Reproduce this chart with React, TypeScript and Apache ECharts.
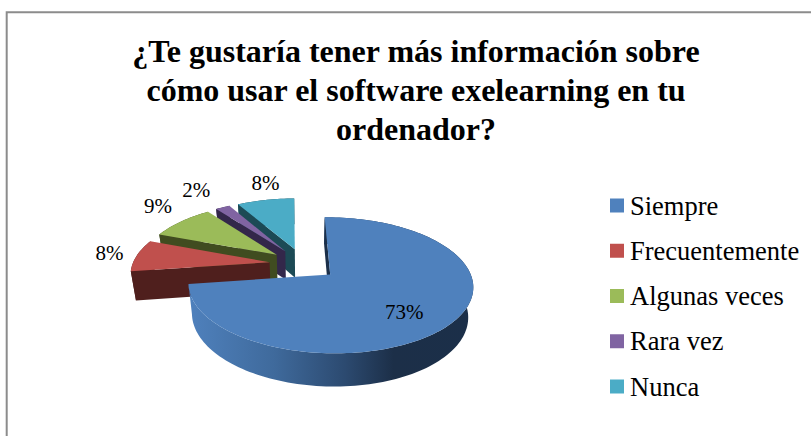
import React, { useEffect, useRef } from "react";
import * as echarts from "echarts";

const TITLE_LINES = [
  "¿Te gustaría tener más información sobre",
  "cómo usar el software exelearning en tu",
  "ordenador?",
];
const CATEGORIES = ["Siempre", "Frecuentemente", "Algunas veces", "Rara vez", "Nunca"];
const VALUES = [73, 8, 9, 2, 8];

const TOP_COLORS = ["#4f81bd", "#c0504d", "#9bbb59", "#8064a2", "#4bacc6"];
const WALL_COLORS = ["#1b2f49", "#4f1f1d", "#404c20", "#33274a", "#1c4a55"];
const FONT = "Liberation Serif";

// Projection of the tilted pie plane onto the page
const CX = 303.5, CY = 264, A = 137, B = 63, K = 0.155, EXPLODE = 0.25;
const DEPTH = 29, DEPTH_SLOPE = 0.047, SHRINK = 0.97;
const LABEL_RADIUS = [0.85, 1.2, 1.4, 1.5, 1.45];
const LABEL_NUDGE = [[4, 10], [-34, -3], [-10, -11], [-13, -8], [5, -9]];

const TOTAL = VALUES.reduce((s, v) => s + v, 0);
const project = (X: number, Y: number): [number, number] => {
  const w = 1 + K * Y;
  return [CX + (A * X) / w, CY - (B * Y) / w];
};
const lower = (p: [number, number]): [number, number] => [
  CX + (p[0] - CX) * SHRINK,
  p[1] + DEPTH + DEPTH_SLOPE * (p[1] - CY),
];

function renderSlice(i: number) {
  return (_params: any, api: any) => {
    const value = api.value(0);
    const before = VALUES.slice(0, i).reduce((s, v) => s + v, 0);
    const a0 = (before / TOTAL) * Math.PI * 2 - 0.015;
    const a1 = a0 + (value / TOTAL) * Math.PI * 2;
    const mid = (a0 + a1) / 2;
    const ox = EXPLODE * Math.sin(mid);
    const oy = EXPLODE * Math.cos(mid);
    const apex = project(ox, oy);
    const arc: [number, number][] = [];
    const n = Math.max(4, Math.ceil((a1 - a0) / 0.03));
    for (let k = 0; k <= n; k++) {
      const a = a0 + ((a1 - a0) * k) / n;
      arc.push(project(ox + Math.sin(a), oy + Math.cos(a)));
    }
    const bottomArc = arc.map(lower);
    const wallFill =
      i === 0
        ? new echarts.graphic.LinearGradient(0, 0, 1, 0, [
            { offset: 0, color: "#4f81bd" },
            { offset: 0.3, color: "#3f6a9c" },
            { offset: 0.55, color: "#2c4a70" },
            { offset: 0.72, color: "#1c2f48" },
            { offset: 1, color: "#1b2f49" },
          ])
        : WALL_COLORS[i];
    const lp = project(LABEL_RADIUS[i] * Math.sin(mid), LABEL_RADIUS[i] * Math.cos(mid));
    const children: any[] = [
      {
        type: "polygon",
        shape: { points: [...arc, ...[...bottomArc].reverse()] },
        style: { fill: wallFill },
      },
      {
        type: "polygon",
        shape: { points: [apex, arc[0], bottomArc[0], lower(apex)] },
        style: { fill: WALL_COLORS[i] },
      },
      {
        type: "polygon",
        shape: { points: [apex, ...arc] },
        style: { fill: TOP_COLORS[i] },
      },
      {
        type: "text",
        x: lp[0] + LABEL_NUDGE[i][0],
        y: lp[1] + LABEL_NUDGE[i][1],
        style: {
          text: `${value}%`,
          fill: "#000",
          font: `21px "${FONT}"`,
          align: "center",
          verticalAlign: "middle",
        },
      },
    ];
    return { type: "group", children };
  };
}

export default function App() {
  const ref = useRef<HTMLDivElement>(null);
  useEffect(() => {
    document.body.style.margin = "0";
    const chart = echarts.init(ref.current!, undefined, { renderer: "svg" });
    chart.setOption({
      animation: false,
      backgroundColor: "#fff",
      color: TOP_COLORS,
      title: {
        text: TITLE_LINES.join("\n"),
        left: 416,
        top: 31,
        padding: 0,
        textAlign: "center",
        textStyle: {
          fontFamily: FONT,
          fontWeight: "bold",
          fontSize: 32,
          lineHeight: 39,
          color: "#000",
        },
      },
      legend: {
        orient: "vertical",
        left: 610,
        top: 192,
        icon: "rect",
        itemWidth: 14,
        itemHeight: 14,
        itemGap: 18.25,
        padding: 0,
        data: CATEGORIES,
        selectedMode: false,
        textStyle: { fontFamily: FONT, fontSize: 26.5, color: "#000", padding: [0, 0, 0, 1] },
      },
      graphic: [
        {
          type: "polyline",
          shape: { points: [[6.7, 436], [6.7, 12.3], [811, 12.3]] },
          style: { stroke: "#8c8c8c", lineWidth: 2, fill: "none" },
          silent: true,
        },
      ],
      series: CATEGORIES.map((name, i) => ({
        type: "custom",
        name,
        coordinateSystem: "none",
        z: 10 - i,
        silent: true,
        data: [[VALUES[i]]],
        renderItem: renderSlice(i),
      })),
    });
    return () => chart.dispose();
  }, []);
  return <div ref={ref} style={{ position: "fixed", left: 0, top: 0, width: 811, height: 436 }} />;
}
